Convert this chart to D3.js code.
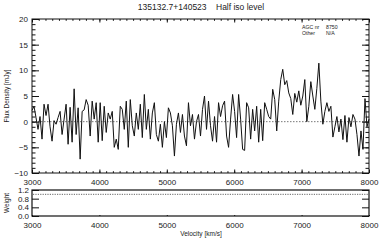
<!DOCTYPE html>
<html><head><meta charset="utf-8">
<script src="https://cdn.jsdelivr.net/npm/d3@7"></script>
<style>
html,body{margin:0;padding:0;background:#fff;}
svg text{font-family:"Liberation Sans",Arial,sans-serif;fill:#222;}
</style></head>
<body><svg id="c" width="382" height="240"></svg>
<script>
// ---- data ----
const titleText = "135132.7+140523    Half iso level";
const legendLabels = ["AGC nr", "Other"];
const legendValues = ["8750", "N/A"];
const velStart = 3000, velStep = 5000 / 168;
const flux = [
 2.2, 3.0, 0.8, -1.5, 1.0, -3.4, 3.4, 1.2, 3.4, -1.0,
 -3.8, 0.2, -0.5, 0.8, 2.0, -2.5, 0.5, 3.4, -4.4, 2.8,
 -4.0, 6.4, -2.5, 2.7, -7.3, 2.0, 2.3, 4.3, 3.2, -2.8,
 4.0, 0.5, 3.7, -4.0, 3.7, -3.7, 3.0, -2.1, 1.7, 0.5,
 2.0, -5.0, -3.4, -5.4, 3.0, 2.4, -1.5, 4.0, -5.0, 4.3,
 -0.8, -2.8, 1.7, -1.5, 3.4, -3.1, 5.3, -1.5, 2.4, -3.4,
 1.7, 3.7, -2.5, -3.8, -0.5, -5.0, 0.0, -3.1, 2.7, 1.7,
 -0.8, -6.7, -0.5, 1.7, -2.1, 1.4, -2.8, -4.7, 3.7, -0.8,
 1.4, -3.4, 0.0, 1.4, -2.8, 2.4, 5.0, -1.5, 4.0, -0.8,
 -3.8, 1.0, -4.0, 3.7, 1.0, 3.1, 4.0, -2.8, -5.0, 0.5,
 5.3, 2.0, -3.1, 5.3, 0.5, -5.4, -5.6, 3.7, 2.7, -3.4,
 2.4, -1.8, 3.0, -4.0, 2.4, -3.7, 3.7, 2.4, 1.0, 0.5,
 6.3, 4.3, -1.8, 4.0, 8.2, 10.2, 7.2, 8.0, 5.6, 4.5,
 1.4, 5.5, 3.8, 6.0, 3.2, 5.0, 8.2, 0.0, 3.0, 7.8,
 5.0, 2.4, 6.5, 11.4, 4.0, -0.5, 2.0, 3.7, 2.0, 3.0,
 -3.0, -1.0, 1.0, -2.0, 0.5, -3.5, 1.2, -4.0, 0.8, -1.0,
 1.4, 0.5, -2.5, -6.7, -1.8, -5.4, 4.5, -1.0, 0.5
];
const weightLevel = 1.0;
const xTicks = [3000, 4000, 5000, 6000, 7000, 8000];
const yTicks = [-10, -5, 0, 5, 10, 15, 20];
const wTicks = [0.0, 0.4, 0.8, 1.2];

// ---- layout ----
const svg = d3.select("#c");
const L = 32, R = 369, T = 19, B = 173, wT = 190, wB = 216;
const x = d3.scaleLinear().domain([3000, 8000]).range([L, R]);
const y = d3.scaleLinear().domain([-10, 20]).range([B, T]);
const yw = d3.scaleLinear().domain([0, 1.2]).range([wB, wT]);

function styleAxis(g, noDomain) {
  g.selectAll("path.domain").attr("stroke", "#111").attr("stroke-width", 1);
  if (noDomain) g.select("path.domain").remove();
  g.selectAll(".tick line").attr("stroke", "#111");
  g.selectAll(".tick text").attr("font-size", 8).attr("font-family", "Liberation Sans, Arial, sans-serif").attr("fill", "#222");
}
const minorX = d3.range(3000, 8001, 100);
const minorY = d3.range(-10, 20.01, 1);

// main panel frame
svg.append("rect").attr("x", L).attr("y", T).attr("width", R - L).attr("height", B - T)
  .attr("fill", "none").attr("stroke", "#111").attr("stroke-width", 1);

// zero line
svg.append("line").attr("x1", L).attr("x2", R).attr("y1", y(0)).attr("y2", y(0))
  .attr("stroke", "#555").attr("stroke-width", 0.8).attr("stroke-dasharray", "1.5,1.5");

// spectrum
const line = d3.line().x((d, i) => x(velStart + i * velStep)).y(d => y(d));
svg.append("path").datum(flux).attr("d", line).attr("fill", "none")
  .attr("stroke", "#111").attr("stroke-width", 1);

// main axes
svg.append("g").attr("transform", `translate(0,${B})`)
  .call(d3.axisBottom(x).tickValues(xTicks).tickSize(-3.5).tickPadding(6).tickFormat(d3.format("d")))
  .call(g => styleAxis(g, true));
svg.append("g").attr("transform", `translate(0,${B})`)
  .call(d3.axisBottom(x).tickValues(minorX).tickSize(-1.8).tickFormat(""))
  .call(g => styleAxis(g, true));
svg.append("g").attr("transform", `translate(0,${T})`)
  .call(d3.axisTop(x).tickValues(xTicks).tickSize(-3.5).tickFormat(""))
  .call(g => styleAxis(g, true));
svg.append("g").attr("transform", `translate(0,${T})`)
  .call(d3.axisTop(x).tickValues(minorX).tickSize(-1.8).tickFormat(""))
  .call(g => styleAxis(g, true));
svg.append("g").attr("transform", `translate(${L},0)`)
  .call(d3.axisLeft(y).tickValues(yTicks).tickSize(-7).tickPadding(4).tickFormat(d => d < 0 ? "\u2212" + (-d) : d))
  .call(g => styleAxis(g, true));
svg.append("g").attr("transform", `translate(${L},0)`)
  .call(d3.axisLeft(y).tickValues(minorY).tickSize(-3.5).tickFormat(""))
  .call(g => styleAxis(g, true));
svg.append("g").attr("transform", `translate(${R},0)`)
  .call(d3.axisRight(y).tickValues(yTicks).tickSize(-7).tickFormat(""))
  .call(g => styleAxis(g, true));
svg.append("g").attr("transform", `translate(${R},0)`)
  .call(d3.axisRight(y).tickValues(minorY).tickSize(-3.5).tickFormat(""))
  .call(g => styleAxis(g, true));

// weight panel
svg.append("rect").attr("x", L).attr("y", wT).attr("width", R - L).attr("height", wB - wT)
  .attr("fill", "none").attr("stroke", "#111").attr("stroke-width", 1.2);
svg.append("line").attr("x1", L + 1).attr("x2", R - 1).attr("y1", yw(weightLevel)).attr("y2", yw(weightLevel))
  .attr("stroke", "#555").attr("stroke-width", 0.9).attr("stroke-dasharray", "1.2,1.2");
svg.append("g").attr("transform", `translate(0,${wB})`)
  .call(d3.axisBottom(x).tickValues(xTicks).tickSize(-1).tickPadding(6).tickFormat(d3.format("d")))
  .call(g => styleAxis(g, true));
svg.append("g").attr("transform", `translate(${L},0)`)
  .call(d3.axisLeft(yw).tickValues(wTicks).tickSize(-7).tickPadding(3).tickFormat(d3.format(".1f")))
  .call(g => styleAxis(g, true));
svg.append("g").attr("transform", `translate(${R},0)`)
  .call(d3.axisRight(yw).tickValues(wTicks).tickSize(-7).tickFormat(""))
  .call(g => styleAxis(g, true));

// titles
svg.append("text").attr("x", 201).attr("y", 10).attr("text-anchor", "middle")
  .attr("font-size", 8.5).style("white-space", "pre").text(titleText);
svg.append("text").attr("x", 201).attr("y", 236).attr("text-anchor", "middle")
  .attr("font-size", 6.5).text("Velocity [km/s]");
svg.append("text").attr("transform", `translate(9,${(T + B) / 2}) rotate(-90)`).attr("text-anchor", "middle")
  .attr("font-size", 6.5).text("Flux Density [mJy]");
svg.append("text").attr("transform", `translate(9,${(wT + wB) / 2}) rotate(-90)`).attr("text-anchor", "middle")
  .attr("font-size", 6.5).text("Weight");

// legend
legendLabels.forEach((lab, i) => {
  svg.append("text").attr("x", 302).attr("y", 29 + i * 6).attr("font-size", 5.2).text(lab);
  svg.append("text").attr("x", 326).attr("y", 29 + i * 6).attr("font-size", 5.2).text(legendValues[i]);
});
</script></body></html>
